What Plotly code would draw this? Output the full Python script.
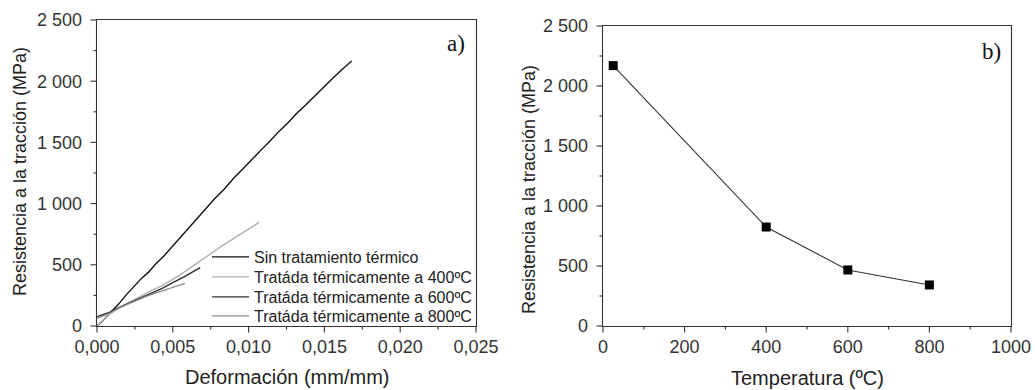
import plotly.graph_objects as go

# ---- Data: panel a) stress-strain curves ----
strain_sin = [0.0, 0.0004, 0.0009, 0.0014, 0.0019, 0.0024, 0.0029, 0.0034, 0.0039, 0.0044, 0.0049,
              0.0054, 0.0060, 0.0066, 0.0072, 0.0078, 0.0084, 0.0090, 0.0096, 0.0102, 0.0108,
              0.0114, 0.0120, 0.0126, 0.0132, 0.0138, 0.0144, 0.0150, 0.0156, 0.0162, 0.0168]
stress_sin = [0, 45, 112, 175, 250, 318, 385, 440, 510, 570, 640,
              712, 790, 880, 960, 1045, 1120, 1205, 1280, 1360, 1435,
              1510, 1590, 1660, 1740, 1810, 1885, 1960, 2030, 2100, 2165]

strain_400 = [0.0, 0.0004, 0.00075, 0.0015, 0.0025, 0.0035, 0.0043, 0.0055, 0.0065, 0.0072, 0.0082, 0.0092, 0.0100, 0.0107]
stress_400 = [0, 50, 90, 150, 220, 285, 330, 420, 505, 566, 650, 730, 790, 847]

strain_600 = [0.0, 0.0004, 0.00075, 0.0015, 0.0025, 0.0035, 0.0043, 0.0050, 0.0058, 0.0068]
stress_600 = [76, 90, 108, 155, 210, 265, 308, 355, 405, 477]

strain_800 = [0.0, 0.0004, 0.00075, 0.0015, 0.0025, 0.0032, 0.0040, 0.0048, 0.0058]
stress_800 = [63, 82, 100, 150, 205, 240, 275, 305, 348]

names_a = ["Sin tratamiento térmico", "Tratáda térmicamente a 400ºC",
           "Tratáda térmicamente a 600ºC", "Tratáda térmicamente a 800ºC"]
colors_a = ["#111111", "#b0b0b0", "#2e2e2e", "#8c8c8c"]

# ---- Data: panel b) strength vs temperature ----
temperature = [25, 400, 600, 800]
strength = [2170, 825, 467, 342]

# ---- Tick labels ----
y_tickvals = [0, 500, 1000, 1500, 2000, 2500]
y_ticktext = ["0", "500", "1 000", "1 500", "2 000", "2 500"]
y_minor = [250, 750, 1250, 1750, 2250]
xa_tickvals = [0.0, 0.005, 0.010, 0.015, 0.020, 0.025]
xa_ticktext = ["0,000", "0,005", "0,010", "0,015", "0,020", "0,025"]
xa_minor = [0.0025, 0.0075, 0.0125, 0.0175, 0.0225]
xb_tickvals = [0, 200, 400, 600, 800, 1000]
xb_ticktext = ["0", "200", "400", "600", "800", "1000"]
xb_minor = [100, 300, 500, 700, 900]

W, H = 1035, 390
AX = "#333333"
FONT = "Liberation Sans, Arial, sans-serif"
SERIF = "Liberation Serif, Times New Roman, serif"

# panel frames in pixels (left, right, top, bottom)
PA = (97, 476, 20, 326)
PB = (603, 1011, 26, 326)
XRANGE_A = [0, 0.025]
XRANGE_B = [0, 1000]
YRANGE = [0, 2500]

def px_x(p):
    return p / W

def px_y(p):
    return 1 - p / H

legend_ids = ["legend", "legend2", "legend3", "legend4"]
legend_rows = [257, 277, 297, 316]

fig = go.Figure()
for xs, ys, nm, col, lg in zip([strain_sin, strain_400, strain_600, strain_800],
                               [stress_sin, stress_400, stress_600, stress_800],
                               names_a, colors_a, legend_ids):
    fig.add_trace(go.Scatter(x=xs, y=ys, name=nm, mode="lines",
                             line=dict(color=col, width=1.4),
                             xaxis="x", yaxis="y", legend=lg))

fig.add_trace(go.Scatter(x=temperature, y=strength, mode="lines+markers",
                         line=dict(color="#333333", width=1.1),
                         marker=dict(symbol="square", size=9, color="#000000"),
                         showlegend=False, xaxis="x2", yaxis="y2"))

common = dict(showgrid=False, zeroline=False, showline=False, ticks="",
              tickfont=dict(family=FONT, size=18, color="#333333"), automargin=False,
              tickmode="array")

layout = dict(
    width=W, height=H,
    margin=dict(l=0, r=0, t=0, b=0, pad=0),
    paper_bgcolor="white", plot_bgcolor="white",
    showlegend=True,
    xaxis=dict(domain=[px_x(PA[0]), px_x(PA[1])], range=XRANGE_A, anchor="y",
               tickvals=xa_tickvals, ticktext=xa_ticktext, ticklabelstandoff=8, **common),
    yaxis=dict(domain=[px_y(PA[3]), px_y(PA[2])], range=YRANGE, anchor="x",
               tickvals=y_tickvals, ticktext=y_ticktext, ticklabelstandoff=14, **common),
    xaxis2=dict(domain=[px_x(PB[0]), px_x(PB[1])], range=XRANGE_B, anchor="y2",
                tickvals=xb_tickvals, ticktext=xb_ticktext, ticklabelstandoff=8, **common),
    yaxis2=dict(domain=[px_y(PB[3]), px_y(PB[2])], range=YRANGE, anchor="x2",
                tickvals=y_tickvals, ticktext=y_ticktext, ticklabelstandoff=14, **common),
)
for lg, row in zip(legend_ids, legend_rows):
    layout[lg] = dict(x=px_x(207), y=px_y(row), xanchor="left", yanchor="middle",
                      bgcolor="rgba(0,0,0,0)", borderwidth=0,
                      font=dict(family=FONT, size=16, color="#222222"),
                      itemwidth=37)
fig.update_layout(**layout)

# ---- frames and tick marks (drawn as paper shapes so they always show) ----
shapes = []

def frame(panel):
    l, r, t, b = panel
    return dict(type="rect", xref="paper", yref="paper", layer="above",
                x0=px_x(l - 0.5), x1=px_x(r + 0.5), y0=px_y(b + 0.5), y1=px_y(t - 0.5),
                line=dict(color=AX, width=1.1), fillcolor="rgba(0,0,0,0)")

def xticks(panel, rng, vals, length):
    l, r, t, b = panel
    out = []
    for v in vals:
        p = l + (v - rng[0]) / (rng[1] - rng[0]) * (r - l)
        out.append(dict(type="line", xref="paper", yref="paper", layer="above",
                        x0=px_x(p), x1=px_x(p), y0=px_y(b + 0.5), y1=px_y(b + 0.5 + length),
                        line=dict(color=AX, width=1.1)))
    return out

def yticks(panel, rng, vals, length):
    l, r, t, b = panel
    out = []
    for v in vals:
        p = b - (v - rng[0]) / (rng[1] - rng[0]) * (b - t)
        out.append(dict(type="line", xref="paper", yref="paper", layer="above",
                        x0=px_x(l - 0.5), x1=px_x(l - 0.5 - length), y0=px_y(p), y1=px_y(p),
                        line=dict(color=AX, width=1.1)))
    return out

shapes.append(frame(PA))
shapes.append(frame(PB))
shapes += xticks(PA, XRANGE_A, xa_tickvals, 6) + xticks(PA, XRANGE_A, xa_minor, 3)
shapes += yticks(PA, YRANGE, y_tickvals, 6) + yticks(PA, YRANGE, y_minor, 3)
shapes += xticks(PB, XRANGE_B, xb_tickvals, 6) + xticks(PB, XRANGE_B, xb_minor, 3)
shapes += yticks(PB, YRANGE, y_tickvals, 6) + yticks(PB, YRANGE, y_minor, 3)
fig.update_layout(shapes=shapes)

def ann(text, x, y, size, family=FONT, angle=0, color="#222222"):
    return dict(text=text, x=px_x(x), y=px_y(y), xref="paper", yref="paper",
                xanchor="center", yanchor="middle", showarrow=False, textangle=angle,
                font=dict(family=family, size=size, color=color))

annots = [
    ann("Deformación (mm/mm)", 287, 377, 20),
    ann("Temperatura (ºC)", 807, 378, 20),
    ann("Resistencia a la tracción (MPa)", 20, 172, 18, angle=-90),
    ann("Resistencia a la tracción (MPa)", 529, 190, 18, angle=-90),
    ann("a)", 456, 43, 23, family=SERIF, color="#111111"),
    ann("b)", 991, 52, 23, family=SERIF, color="#111111"),
]
fig.update_layout(annotations=annots)

fig.write_html("out.html", config={"displayModeBar": False},
               post_script="document.body.style.margin='0';document.body.style.overflow='hidden';")
